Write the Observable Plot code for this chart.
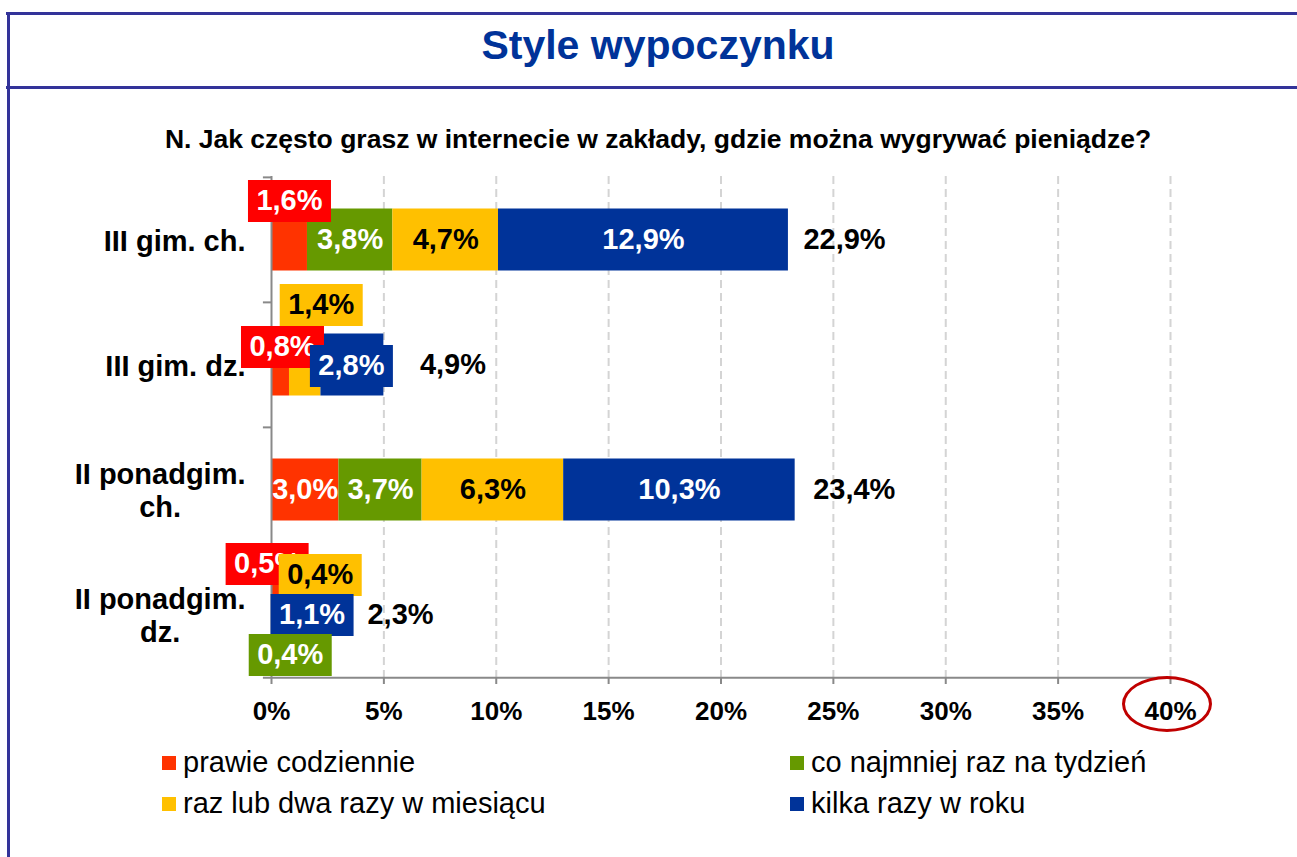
<!DOCTYPE html>
<html><head><meta charset="utf-8">
<script src="https://cdn.jsdelivr.net/npm/d3@7"></script>
<script src="https://cdn.jsdelivr.net/npm/@observablehq/plot@0.6"></script>
<style>
body{margin:0;background:#fff;font-family:"Liberation Sans",Arial,sans-serif;}
#page{position:relative;width:1297px;height:857px;overflow:hidden;background:#fff;}
.ln{position:absolute;background:#333399;}
.txt{position:absolute;white-space:nowrap;}
#title{left:0;width:1316px;top:24.5px;text-align:center;font-weight:bold;font-size:41px;line-height:41px;color:#003399;}
#subtitle{left:0;width:1316px;top:125.5px;text-align:center;font-weight:bold;font-size:26.5px;line-height:26.5px;color:#000;}
#chart{position:absolute;left:0;top:160px;}
.lg{position:absolute;font-size:29px;line-height:29px;color:#000;white-space:nowrap;}
.sw{position:absolute;width:14px;height:14px;}
#ring{position:absolute;left:1122px;top:676px;width:90px;height:56px;border:3.5px solid #C00000;border-radius:50%;box-sizing:border-box;}
</style></head>
<body>
<div id="page">
  <div class="ln" style="left:6px;top:12px;width:1291px;height:3px"></div>
  <div class="ln" style="left:6px;top:86px;width:1291px;height:3px"></div>
  <div class="ln" style="left:7px;top:12px;width:3px;height:845px"></div>
  <div id="title" class="txt">Style wypoczynku</div>
  <div id="subtitle" class="txt">N. Jak często grasz w internecie w zakłady, gdzie można wygrywać pieniądze?</div>
  <div id="chart"></div>
  <div id="legend"></div>
  <div id="ring"></div>
</div>
<script>
// ---- data ----
const categories = ["III gim. ch.", "III gim. dz.", "II ponadgim.\nch.", "II ponadgim.\ndz."];
const seriesNames = ["prawie codziennie", "co najmniej raz na tydzień", "raz lub dwa razy w miesiącu", "kilka razy w roku"];
const prawieCodziennie = [1.6, 0.8, 3.0, 0.5];
const coNajmniejRazNaTydzien = [3.8, 0.0, 3.7, 0.4];
const razLubDwaRazyWMiesiacu = [4.7, 1.4, 6.3, 0.4];
const kilkaRazyWRoku = [12.9, 2.8, 10.3, 1.1];
const totals = [22.9, 4.9, 23.4, 2.3];
const xTicks = [0, 5, 10, 15, 20, 25, 30, 35, 40];

// ---- styles / layout ----
const seriesValues = [prawieCodziennie, coNajmniejRazNaTydzien, razLubDwaRazyWMiesiacu, kilkaRazyWRoku];
const colors = ["#FF3300", "#669900", "#FFC000", "#003399"];
const boxColors = ["#FF0000", "#669900", "#FFC000", "#003399"];
const textColors = ["#ffffff", "#ffffff", "#000000", "#ffffff"];
// displaced (boxed) data labels, as Excel placed them: offsets in px
const callouts = [
  {ci: 0, si: 0, dx: 0, dy: -39},
  {ci: 1, si: 2, dx: 16, dy: -60},
  {ci: 1, si: 0, dx: 2, dy: -18},
  {ci: 1, si: 3, dx: -1, dy: 1},
  {ci: 3, si: 0, dx: -10, dy: -51},
  {ci: 3, si: 2, dx: 24, dy: -40},
  {ci: 3, si: 3, dx: -1, dy: 0},
  {ci: 3, si: 1, dx: 3, dy: 40}
];
const totalGap = [15, 36, 18, 42];

const W = 1297, H = 567, mt = 16, mb = 50, ml = 271, mr = 127;
const step = (H - mt - mb) / categories.length;
const FONT = "'Liberation Sans', Arial, sans-serif";
const fmt = v => v.toFixed(1).replace(".", ",") + "%";

const rows = [];
categories.forEach((c, ci) => {
  let acc = 0;
  seriesNames.forEach((s, si) => {
    const v = seriesValues[si][ci];
    rows.push({category: c, ci, series: s, si, value: v, start: acc, end: acc + v, mid: acc + v / 2});
    acc += v;
  });
});
const isCallout = d => callouts.some(c => c.ci === d.ci && c.si === d.si);
const inside = rows.filter(d => d.value > 0 && !isCallout(d));

const boxSymbol = {draw(ctx) { ctx.moveTo(-41.5, -21); ctx.lineTo(41.5, -21); ctx.lineTo(41.5, 21); ctx.lineTo(-41.5, 21); ctx.closePath(); }};

const canvas = document.createElement("canvas");
const ctx = canvas.getContext("2d");
ctx.font = "bold 29px 'Liberation Sans'";
const labelWidth = s => Math.max(...s.split("\n").map(t => ctx.measureText(t).width));

const axisGray = "#898989";
const marks = [
  Plot.ruleX(xTicks.filter(d => d > 0), {x: d => d, stroke: "#d4d4d4", strokeWidth: 2, strokeDasharray: "8,5"}),
  Plot.barX(rows, {x1: "start", x2: "end", y: "category", fill: "series", insetTop: 31.5, insetBottom: 31.5}),
  Plot.ruleX([0], {x: d => d, stroke: axisGray, strokeWidth: 2}),
  Plot.ruleY(categories, {y: d => d, dy: -step / 2, x1: -0.36, x2: 0, stroke: axisGray, strokeWidth: 2}),
  Plot.ruleY([categories[categories.length - 1]], {y: d => d, dy: step / 2, x1: -0.36, x2: 40, stroke: axisGray, strokeWidth: 2}),
  Plot.axisX({ticks: xTicks, tickFormat: d => d + "%", tickSize: 7, tickPadding: 17, fontSize: 26, fontWeight: "bold", stroke: axisGray, strokeWidth: 2, fill: "#000"}),
  Plot.text(inside.filter(d => textColors[d.si] === "#ffffff"), {x: "mid", y: "category", text: d => fmt(d.value), fill: "#ffffff", fontSize: 29, fontWeight: "bold"}),
  Plot.text(inside.filter(d => textColors[d.si] === "#000000"), {x: "mid", y: "category", text: d => fmt(d.value), fill: "#000000", fontSize: 29, fontWeight: "bold"})
];
callouts.forEach(c => {
  const d = rows.find(r => r.ci === c.ci && r.si === c.si);
  marks.push(Plot.dot([d], {x: "mid", y: "category", symbol: boxSymbol, fill: boxColors[d.si], stroke: "none", dx: c.dx, dy: c.dy}));
  marks.push(Plot.text([d], {x: "mid", y: "category", text: r => fmt(r.value), fill: textColors[d.si], fontSize: 29, fontWeight: "bold", dx: c.dx, dy: c.dy}));
});
categories.forEach((c, ci) => {
  const end = rows.filter(r => r.ci === ci).reduce((a, r) => a + r.value, 0);
  marks.push(Plot.text([{category: c, end, total: totals[ci]}], {x: "end", y: "category", text: r => fmt(r.total), textAnchor: "start", dx: totalGap[ci], fill: "#000", fontSize: 29, fontWeight: "bold"}));
  marks.push(Plot.text([c], {y: d => d, frameAnchor: "left", textAnchor: "middle", dx: -(26 + labelWidth(c) / 2), lineHeight: 1.15, fill: "#000", fontSize: 29, fontWeight: "bold"}));
});

const chart = Plot.plot({
  width: W, height: H, marginTop: mt, marginBottom: mb, marginLeft: ml, marginRight: mr,
  style: {fontFamily: FONT, background: "transparent", overflow: "visible"},
  x: {domain: [0, 40]},
  y: {domain: categories, padding: 0, axis: null},
  color: {domain: seriesNames, range: colors},
  marks
});
document.getElementById("chart").appendChild(chart);

// legend
const legendPos = [
  {x: 162, y: 747.5}, {x: 790, y: 747.5},
  {x: 162, y: 788.5}, {x: 790, y: 788.5}
];
const lg = document.getElementById("legend");
seriesNames.forEach((s, i) => {
  const p = legendPos[i];
  const sw = document.createElement("div");
  sw.className = "sw"; sw.style.left = p.x + "px"; sw.style.top = (p.y + 8) + "px"; sw.style.background = colors[i];
  const t = document.createElement("div");
  t.className = "lg"; t.style.left = (p.x + 21) + "px"; t.style.top = p.y + "px"; t.textContent = s;
  lg.appendChild(sw); lg.appendChild(t);
});
</script>
</body></html>
